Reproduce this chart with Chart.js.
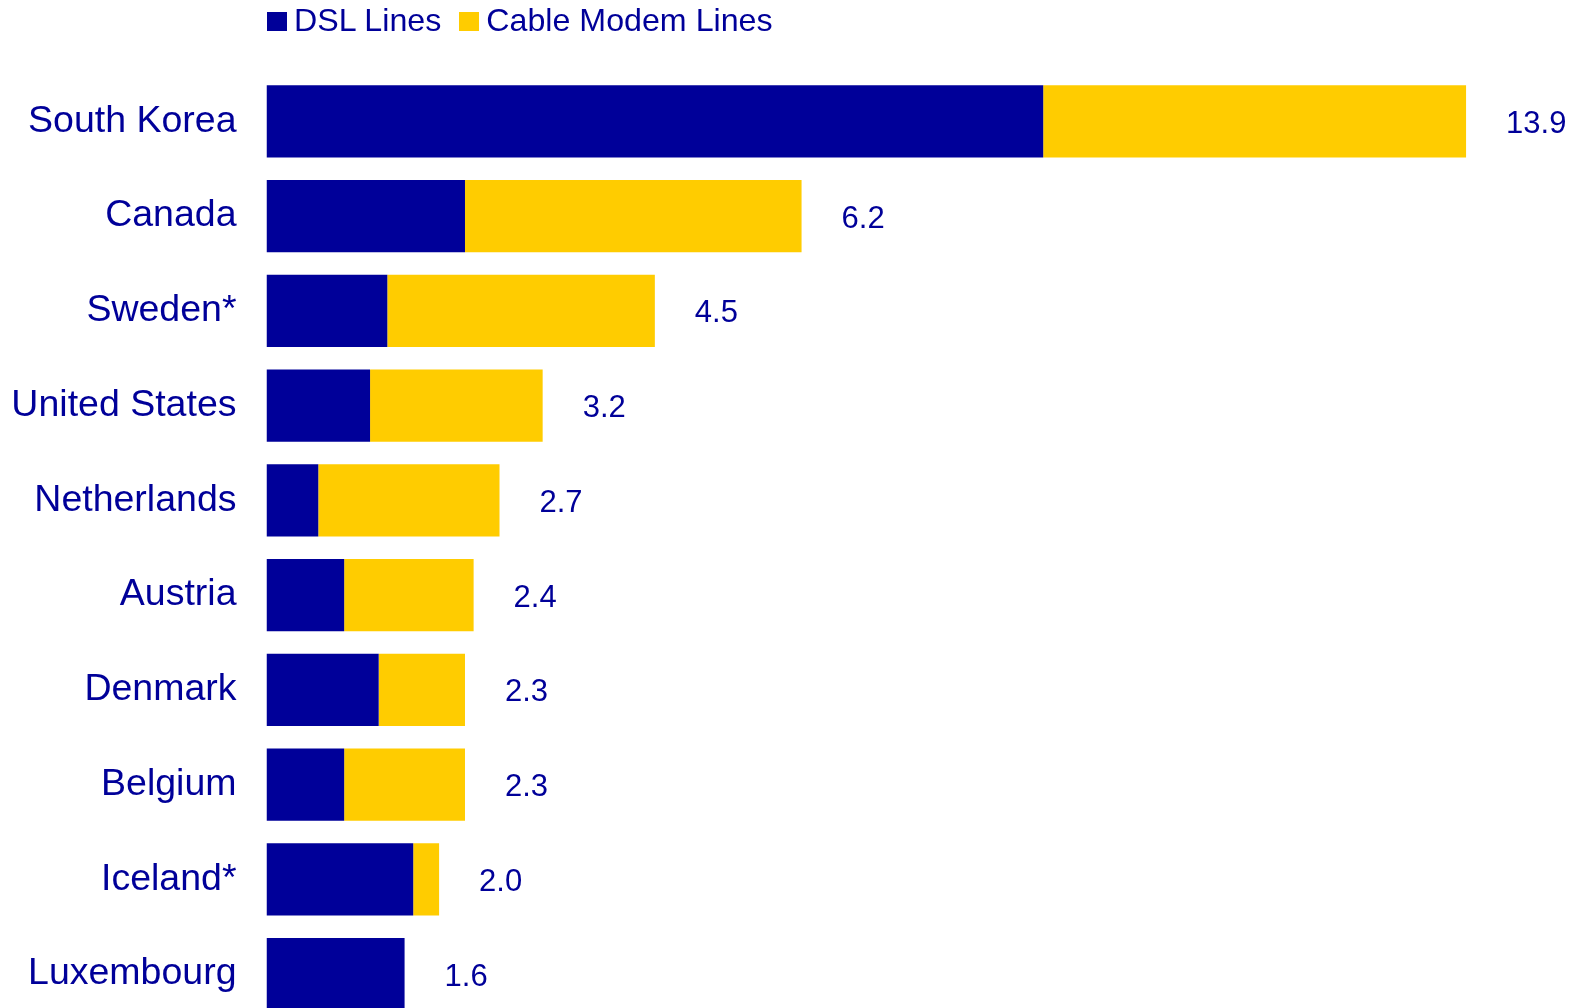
<!DOCTYPE html>
<html>
<head>
<meta charset="utf-8">
<title>Broadband lines per country</title>
<script src="https://cdn.jsdelivr.net/npm/chart.js@4"></script>
<style>
  html, body { margin: 0; padding: 0; background: #fff; overflow: hidden; }
  #wrap { position: relative; width: 1589px; height: 1008px; overflow: hidden; }
  #broadband { position: absolute; left: 0; top: 0; }
  #legend {
    position: absolute; left: 267px; top: 2px;
    display: flex; align-items: flex-start;
    font-family: "Liberation Sans", Arial, sans-serif;
    font-size: 32.2px; line-height: 37px; color: #000099;
  }
  #legend .item { display: flex; align-items: flex-start; margin-right: 18px; }
  #legend .box { width: 20px; height: 19px; margin-top: 10px; margin-right: 7px; }
</style>
</head>
<body>
<div id="wrap">
  <canvas id="broadband" width="1589" height="1074"></canvas>
  <div id="legend"></div>
</div>
<script>
const countries = ["South Korea", "Canada", "Sweden*", "United States", "Netherlands",
  "Austria", "Denmark", "Belgium", "Iceland*", "Luxembourg"];
const dslLines = [9.0, 2.3, 1.4, 1.2, 0.6, 0.9, 1.3, 0.9, 1.7, 1.6];
const cableLines = [4.9, 3.9, 3.1, 2.0, 2.1, 1.5, 1.0, 1.4, 0.3, 0.0];

const seriesNames = ["DSL Lines", "Cable Modem Lines"];
const seriesColors = ["#000099", "#FFCC00"];
const textColor = "#000099";
const fontFamily = "'Liberation Sans', Arial, sans-serif";

// total of both series, written at the end of each bar
const totalLabels = {
  id: "totalLabels",
  afterDatasetsDraw(chart) {
    const ctx = chart.ctx;
    const xScale = chart.scales.x;
    const bars = chart.getDatasetMeta(0).data;
    ctx.save();
    ctx.font = "31px " + fontFamily;
    ctx.fillStyle = textColor;
    ctx.textAlign = "left";
    ctx.textBaseline = "middle";
    for (let i = 0; i < countries.length; i++) {
      let total = dslLines[i] + cableLines[i];
      let x = xScale.getPixelForValue(total) + 40;
      ctx.fillText(total.toFixed(1), x, bars[i].y + 3);
    }
    ctx.restore();
  }
};

function buildLegend() {
  let legend = document.getElementById("legend");
  for (let i = 0; i < seriesNames.length; i++) {
    let item = document.createElement("div");
    item.className = "item";
    let box = document.createElement("span");
    box.className = "box";
    box.style.background = seriesColors[i];
    let label = document.createElement("span");
    label.textContent = seriesNames[i];
    item.appendChild(box);
    item.appendChild(label);
    legend.appendChild(item);
  }
}

new Chart("broadband", {
  type: "bar",
  data: {
    labels: countries,
    datasets: [
      {
        label: seriesNames[0],
        data: dslLines,
        backgroundColor: seriesColors[0],
        borderWidth: 0,
        barPercentage: 0.76,
        categoryPercentage: 1.0,
      },
      {
        label: seriesNames[1],
        data: cableLines,
        backgroundColor: seriesColors[1],
        borderWidth: 0,
        barPercentage: 0.76,
        categoryPercentage: 1.0,
      },
    ],
  },
  options: {
    indexAxis: "y",
    responsive: false,
    animation: false,
    layout: { padding: { top: 74, right: 28, bottom: 0, left: 0 } },
    plugins: {
      legend: { display: false },
      tooltip: { enabled: false },
    },
    scales: {
      x: {
        stacked: true,
        display: false,
        min: 0,
        max: 15,
      },
      y: {
        stacked: true,
        grid: { display: false, drawTicks: false },
        border: { display: false },
        ticks: {
          color: textColor,
          padding: 30,
          font: { family: fontFamily, size: 37.5 },
        },
        afterFit(scale) {
          scale.width = 266.5;
        },
      },
    },
  },
  plugins: [totalLabels],
});

buildLegend();
</script>
</body>
</html>
